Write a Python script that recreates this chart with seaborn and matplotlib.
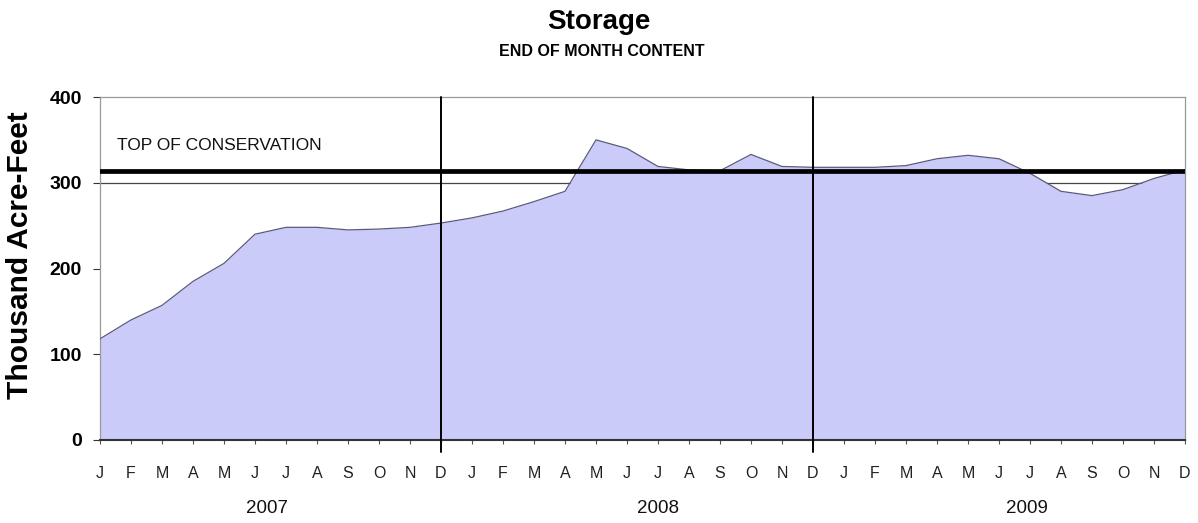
# Storage - end of month content (2007-2009)
import numpy as np
import pandas as pd
import matplotlib
matplotlib.use("Agg")
import matplotlib.pyplot as plt
import matplotlib.transforms as mtransforms
import seaborn as sns

# dados (mil acre-feet, fim de cada mes)
months = ["J", "F", "M", "A", "M", "J", "J", "A", "S", "O", "N", "D"] * 3
years = ["2007", "2008", "2009"]
year_label_pos = [5.4, 18.0, 29.9]
storage = [
    118, 140, 157, 185, 206, 240, 248, 248, 245, 246, 248, 253,   # 2007
    259, 267, 278, 290, 350, 340, 319, 315, 314, 333, 319, 318,   # 2008
    318, 318, 320, 328, 332, 328, 311, 290, 285, 292, 305, 315,   # 2009
]
top_conservation = 314
year_breaks = [11, 23]
y_ticks = [0, 100, 200, 300, 400]

df = pd.DataFrame({"idx": np.arange(len(storage)), "storage": storage})

sns.set_style("white")
plt.rcParams["font.family"] = ["Liberation Sans", "DejaVu Sans"]
plt.rcParams["text.color"] = "black"
plt.rcParams["xtick.color"] = "black"
plt.rcParams["ytick.color"] = "black"
plt.rcParams["axes.labelcolor"] = "black"

fig = plt.figure(figsize=(11.98, 5.23), dpi=100)
ax = fig.add_axes([100 / 1198, 1 - 440 / 523, 1085 / 1198, 343 / 523])

# linha fina em 300 (fica por baixo da area)
ax.axhline(300, color="#444444", lw=0.9, zorder=1)

# area de armazenamento
ax.fill_between(df["idx"], df["storage"], 0, color="#cbcbfa", lw=0, zorder=2)
sns.lineplot(data=df, x="idx", y="storage", ax=ax, color="#5a5a7a", lw=0.9, zorder=3)

# topo da conservacao
ax.axhline(top_conservation, color="black", lw=3.4, zorder=4)
ax.text(0.55, 343, "TOP OF CONSERVATION", fontsize=12.5, ha="left", va="center",
        color="#111111", zorder=5)

# divisoes entre anos
for xb in year_breaks:
    ax.axvline(xb, ymin=-0.035, ymax=1, color="black", lw=1.4, zorder=5, clip_on=False)

ax.set_xlim(0, len(storage) - 1)
ax.set_ylim(0, 400)
ax.set_xticks(df["idx"])
ax.set_xticklabels(months, fontsize=11.5, color="#222222")
ax.set_yticks(y_ticks)
ax.set_yticklabels([str(v) for v in y_ticks], fontsize=14, fontweight="bold")
ax.tick_params(axis="x", length=3, width=0.8, color="#555555", pad=16, bottom=True)
ax.tick_params(axis="y", length=5, width=0.8, color="#333333", pad=8, left=True)

ax.set_xlabel("")
ax.set_ylabel("Thousand Acre-Feet", fontsize=21.5, fontweight="bold")
ax.yaxis.set_label_coords(-0.061, 0.539)

for side in ["top", "right", "left"]:
    ax.spines[side].set_color("#999999")
    ax.spines[side].set_linewidth(0.9)
ax.spines["bottom"].set_color("#333333")
ax.spines["bottom"].set_linewidth(1.5)

# rotulos dos anos
trans = mtransforms.blended_transform_factory(ax.transData, ax.transAxes)
for pos, yr in zip(year_label_pos, years):
    ax.text(pos, -0.201, yr, transform=trans, ha="center", va="center",
            fontsize=13.5, color="#111111")

fig.text(0.5, 1 - 22 / 523, "Storage", ha="center", va="center",
         fontsize=20, fontweight="bold")
fig.text(602 / 1198, 1 - 52 / 523, "END OF MONTH CONTENT", ha="center", va="center",
         fontsize=11.5, fontweight="bold")

fig.savefig("out.png", dpi=100)
